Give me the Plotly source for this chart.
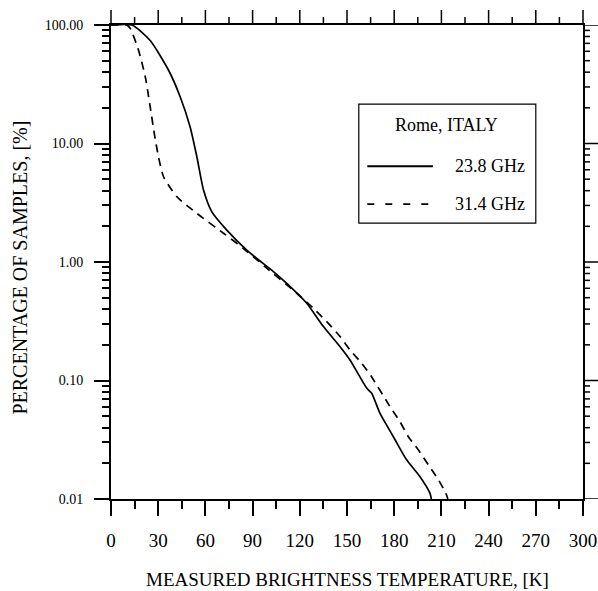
import plotly.graph_objects as go

# ---- data ----
t_238 = [0, 13.3, 24.9, 36.6, 44.0, 50.3, 54.6, 58.8, 64.1, 73.6, 86.3, 92.7, 103.2,
         111.7, 124.4, 135.0, 145.6, 151.9, 162.5, 165.7, 170.9, 179.4, 187.9, 196.3,
         202.7, 203.6]
p_238 = [100, 100, 74, 41.5, 24.7, 13.8, 7.7, 4.05, 2.65, 1.86, 1.26, 1.07, 0.83,
         0.66, 0.449, 0.285, 0.193, 0.149, 0.0863, 0.078, 0.053, 0.0337, 0.0214, 0.0155,
         0.0112, 0.0100]

t_314 = [0, 10.0, 12.3, 17.5, 21.8, 24.9, 27.5, 30.2, 33.4, 41.9, 54.6, 71.5, 84.2,
         98.0, 118.1, 128.6, 137.1, 145.6, 151.9, 159.3, 165.7, 177.3, 183.6, 188.9,
         195.3, 201.6, 208.0, 212.8, 214.1]
p_314 = [100, 100, 93.3, 61.2, 36.5, 20.4, 12.2, 7.7, 5.24, 3.55, 2.57, 1.75, 1.30,
         0.91, 0.545, 0.407, 0.314, 0.235, 0.181, 0.140, 0.107, 0.0603, 0.0451, 0.0337,
         0.026, 0.0195, 0.0146, 0.0112, 0.0100]

series_names = ["23.8 GHz", "31.4 GHz"]
legend_title = "Rome, ITALY"

x_range = [0, 300]
x_ticks = list(range(0, 301, 30))
x_minor_ticks = list(range(15, 300, 30))
y_range_log = [-2, 2]
y_tickvals = [0.01, 0.1, 1, 10, 100]
y_ticktext = ["0.01", "0.10", "1.00", "10.00", "100.00"]
y_minor = [m * d for d in [0.01, 0.1, 1, 10] for m in range(2, 10)]

x_title = "MEASURED BRIGHTNESS TEMPERATURE, [K]"
y_title = "PERCENTAGE OF SAMPLES, [%]"

FONT = "Liberation Serif, Times New Roman, serif"

W, H = 598, 591
ML, MR, MT, MB = 111, 15, 25, 92
PW, PH = W - ML - MR, H - MT - MB

fig = go.Figure()
fig.add_trace(go.Scatter(x=t_238, y=p_238, mode="lines", name=series_names[0],
                         line=dict(color="black", width=1.7, shape="spline", smoothing=0.6),
                         showlegend=False))
fig.add_trace(go.Scatter(x=t_314, y=p_314, mode="lines", name=series_names[1],
                         line=dict(color="black", width=1.7, dash="8px,6px",
                                   shape="spline", smoothing=0.6),
                         showlegend=False))

tick_common = dict(ticks="outside", tickwidth=1.5, tickcolor="black", showline=True,
                   linecolor="black", linewidth=2, showgrid=False, zeroline=False,
                   mirror=True, automargin=False)
x_minor = dict(dtick=15, tick0=0, ticks="outside", ticklen=8, tickwidth=1.5,
               tickcolor="black", showgrid=False)
y_minor_d = dict(tickmode="array", tickvals=y_minor, ticks="outside", ticklen=7,
                 tickwidth=1.5, tickcolor="black", showgrid=False)

fig.update_layout(
    xaxis=dict(range=x_range, tickvals=x_ticks, ticklen=15,
               tickfont=dict(family=FONT, size=19, color="black"),
               ticklabelstandoff=8, minor=x_minor, **tick_common),
    yaxis=dict(type="log", range=y_range_log, tickvals=y_tickvals, ticktext=y_ticktext,
               ticklen=15, tickfont=dict(family=FONT, size=14, color="black"),
               ticklabelstandoff=8, minor=y_minor_d, **tick_common),
)

# mirrored ticks on the top and right frame
tick_line = dict(color="black", width=1.5)
for vals, ln in ((x_ticks, 15), (x_minor_ticks, 8)):
    for v in vals:
        xp = (v - x_range[0]) / (x_range[1] - x_range[0])
        fig.add_shape(type="line", xref="paper", yref="paper", x0=xp, x1=xp,
                      y0=1, y1=1 + ln / PH, line=tick_line, layer="above")
for vals, ln in ((y_tickvals, 15), (y_minor, 7)):
    for v in vals:
        fig.add_shape(type="line", xref="paper", yref="y", x0=1, x1=1 + ln / PW,
                      y0=v, y1=v, line=tick_line, layer="above")

# axis titles
fig.add_annotation(text=x_title, xref="paper", yref="paper", x=0.5, y=-0.170,
                   xanchor="center", yanchor="middle", showarrow=False,
                   font=dict(family=FONT, size=19, color="black"))
fig.add_annotation(text=y_title, xref="paper", yref="paper", x=-0.192, y=0.489,
                   xanchor="center", yanchor="middle", showarrow=False, textangle=-90,
                   font=dict(family=FONT, size=20, color="black"))

# legend box (drawn manually)
lx0, lx1, ly0, ly1 = 0.525, 0.900, 0.582, 0.833
fig.add_shape(type="rect", xref="paper", yref="paper", x0=lx0, x1=lx1, y0=ly0, y1=ly1,
              line=dict(color="black", width=1.2), fillcolor="white")
fig.add_annotation(text=legend_title, xref="paper", yref="paper", x=0.7116, y=0.7887,
                   xanchor="center", yanchor="middle", showarrow=False,
                   font=dict(family=FONT, size=18, color="black"))
row_y = [0.702, 0.622]
dashes = ["solid", "7px,11px"]
for name, yy, dsh in zip(series_names, row_y, dashes):
    fig.add_shape(type="line", xref="paper", yref="paper", x0=0.543, x1=0.682,
                  y0=yy, y1=yy, line=dict(color="black", width=1.8, dash=dsh))
    fig.add_annotation(text=name, xref="paper", yref="paper", x=0.724, y=yy,
                       xanchor="left", yanchor="middle", showarrow=False,
                       font=dict(family=FONT, size=18, color="black"))

fig.update_layout(width=W, height=H, margin=dict(l=ML, r=MR, t=MT, b=MB),
                  paper_bgcolor="white", plot_bgcolor="white",
                  font=dict(family=FONT, color="black"))

fig.write_html("out.html")
